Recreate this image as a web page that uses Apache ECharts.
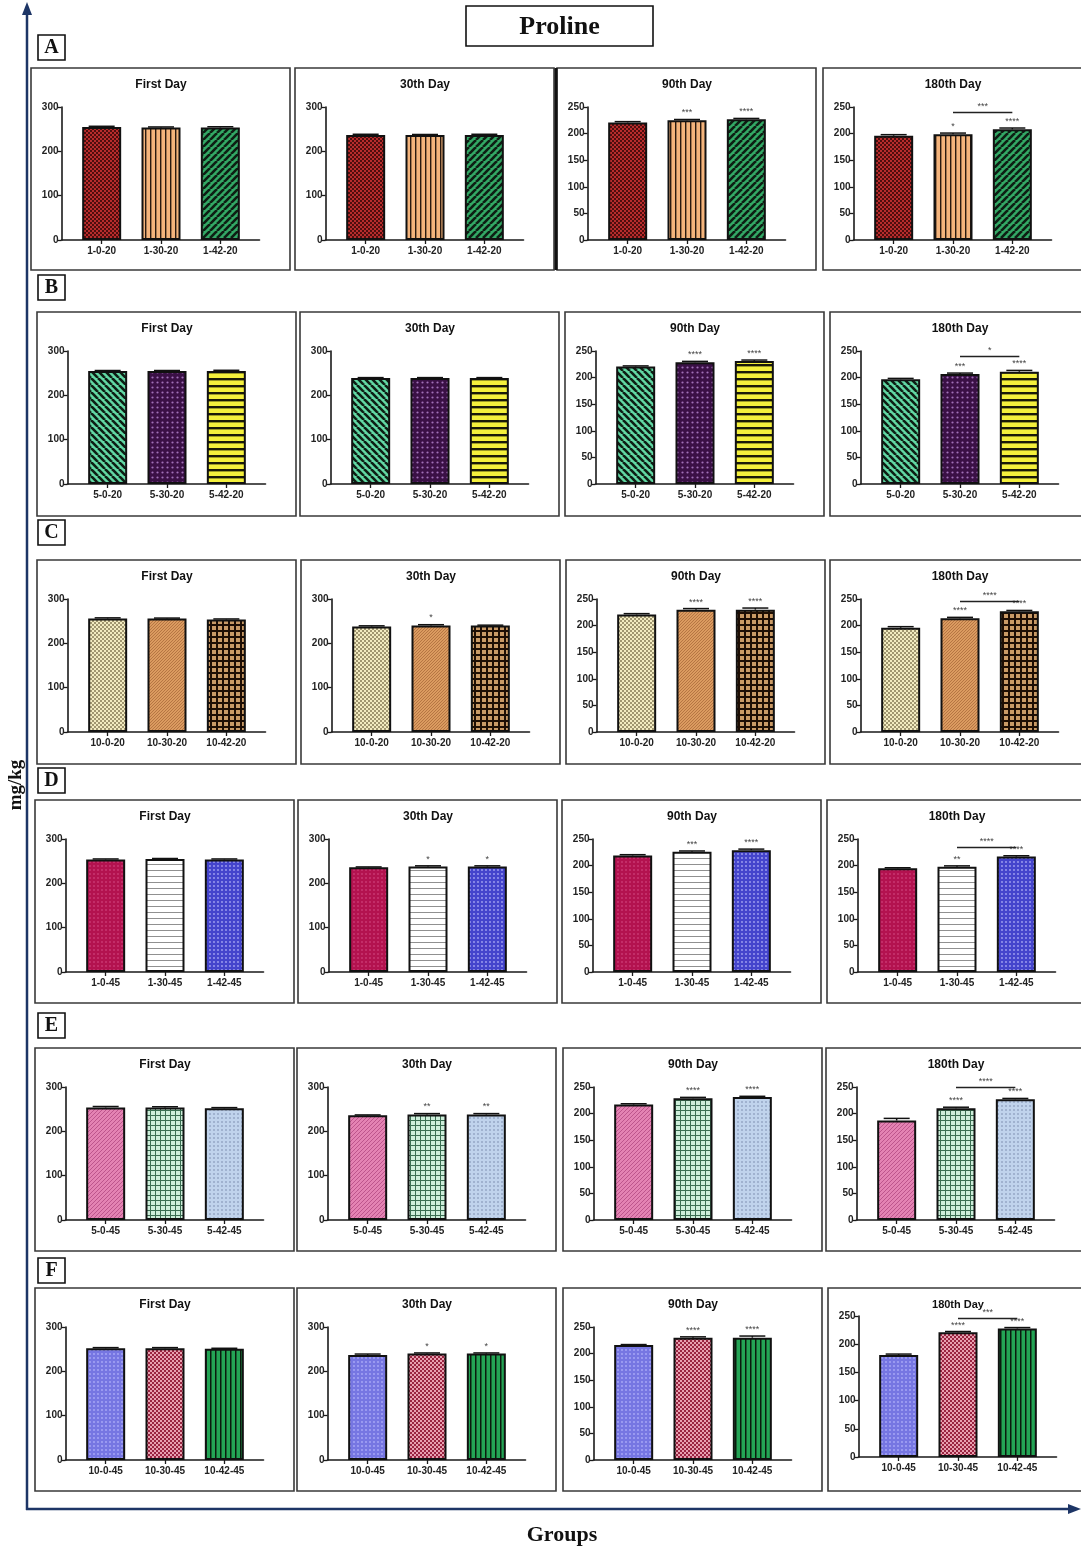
<!DOCTYPE html>
<html>
<head>
<meta charset="utf-8">
<script src="https://cdn.jsdelivr.net/npm/echarts@6/dist/echarts.min.js"></script>
<style>html,body{margin:0;padding:0;background:#fff;}#c{width:1081px;height:1548px;}</style>
</head>
<body>
<div id="c"></div>
<script>
// ---------------- DATA ----------------
const rowLabels = ['A','B','C','D','E','F'];
const dayTitles = ['First Day','30th Day','90th Day','180th Day'];
const axisMax = [300,300,250,250];
const axisStep = [100,100,50,50];

const groupsA = ['1-0-20','1-30-20','1-42-20'];
const groupsB = ['5-0-20','5-30-20','5-42-20'];
const groupsC = ['10-0-20','10-30-20','10-42-20'];
const groupsD = ['1-0-45','1-30-45','1-42-45'];
const groupsE = ['5-0-45','5-30-45','5-42-45'];
const groupsF = ['10-0-45','10-30-45','10-42-45'];

// values per day: [First, 30th, 90th, 180th] x 3 groups
const valuesA = [[255,254,254],[237,237,237],[221,225,227],[196,199,208]];
const valuesB = [[255,255,255],[239,239,239],[221,229,231],[197,207,211]];
const valuesC = [[256,256,254],[238,240,240],[221,230,230],[196,214,227]];
const valuesD = [[254,255,254],[236,238,238],[219,226,229],[195,198,217]];
const valuesE = [[254,254,252],[236,238,238],[217,229,231],[187,210,227]];
const valuesF = [[252,252,251],[237,240,240],[216,230,230],[181,221,228]];

const errorsA = [[1.5,1,1.5],[1.5,1,1.5],[1.5,1.5,1.5],[2,2,2.5]];
const errorsB = [[1,1,1.5],[1,1,1],[1,1.5,2],[1.5,1.5,2.5]];
const errorsC = [[1.5,1,1],[1.5,2,1],[1.5,2,3],[2,1.5,1.5]];
const errorsD = [[1,1,1],[1,1.5,1.5],[1.5,1.5,2],[1,1.5,1.5]];
const errorsE = [[2,1.5,1.5],[1,2,2],[1.5,1.5,1.5],[4,2,1.5]];
const errorsF = [[1.5,1.5,1],[2,1.5,1.5],[1,1.5,3],[1.5,1.5,1.5]];

const starsA = [['','',''],['','',''],['','***','****'],['','*','****']];
const starsB = [['','',''],['','',''],['','****','****'],['','***','****']];
const starsC = [['','',''],['','*',''],['','****','****'],['','****','****']];
const starsD = [['','',''],['','*','*'],['','***','****'],['','**','****']];
const starsE = [['','',''],['','**','**'],['','****','****'],['','****','****']];
const starsF = [['','',''],['','*','*'],['','****','****'],['','****','****']];

// comparison bracket between group 2 and group 3: [level, stars] or null
const compA = [null,null,null,[240,'***']];
const compB = [null,null,null,[241,'*']];
const compC = [null,null,null,[246,'****']];
const compD = [null,null,[252,'*'],[234,'****']];
const compE = [null,null,null,[250,'****']];
const compF = [null,null,null,[246,'***']];

const allGroups = [groupsA,groupsB,groupsC,groupsD,groupsE,groupsF];
const allValues = [valuesA,valuesB,valuesC,valuesD,valuesE,valuesF];
const allErrors = [errorsA,errorsB,errorsC,errorsD,errorsE,errorsF];
const allStars = [starsA,starsB,starsC,starsD,starsE,starsF];
const allComps = [compA,compB,compC,compD,compE,compF];

// ---------------- LAYOUT ----------------
const rowTop = [68,312,560,800,1048,1288];
const rowH = [202,204,204,203,203,203];
const panelX = [
  [31,295,557,823],
  [37,300,565,830],
  [37,301,566,830],
  [35,298,562,827],
  [35,297,563,826],
  [35,297,563,828]
];
const labelBoxY = [35,275,520,768,1013,1258];

// ---------------- PATTERNS ----------------
function pat(w,h,draw){const c=document.createElement('canvas');c.width=w;c.height=h;const g=c.getContext('2d');draw(g,w,h);return {image:c,repeat:'repeat'};}
function checker(base,dark,s){return pat(2*s,2*s,g=>{g.fillStyle=base;g.fillRect(0,0,2*s,2*s);g.fillStyle=dark;g.fillRect(0,0,s,s);g.fillRect(s,s,s,s);});}
function vstripe(base,dark,p,w){return pat(p,p,g=>{g.fillStyle=base;g.fillRect(0,0,p,p);g.fillStyle=dark;g.fillRect(0,0,w,p);});}
function hstripe(base,dark,p,w){return pat(p,p,g=>{g.fillStyle=base;g.fillRect(0,0,p,p);g.fillStyle=dark;g.fillRect(0,0,p,w);});}
function diag(base,dark,p,w,dir){return pat(p,p,g=>{g.fillStyle=base;g.fillRect(0,0,p,p);g.strokeStyle=dark;g.lineWidth=w;
  for(let k=-1;k<=1;k++){g.beginPath();if(dir>0){g.moveTo(k*p,p);g.lineTo(k*p+p,0);}else{g.moveTo(k*p,0);g.lineTo(k*p+p,p);}g.stroke();}});}
function dots(base,dot,p,r){return pat(p,p,g=>{g.fillStyle=base;g.fillRect(0,0,p,p);g.fillStyle=dot;g.beginPath();g.arc(p/2,p/2,r,0,Math.PI*2);g.fill();});}
function gridp(base,line,p,w){return pat(p,p,g=>{g.fillStyle=base;g.fillRect(0,0,p,p);g.fillStyle=line;g.fillRect(0,0,p,w);g.fillRect(0,0,w,p);});}

const rowPatterns = [
  [checker('#B82C2C','#4E0E0E',2), vstripe('#F4B47C','#2A1A10',5,1.4), diag('#33A865','#0E1E14',7,2.6,1)],
  [diag('#62D8A4','#0E1E14',7,2.6,-1), dots('#3A1045','#A070B8',5,1.1), hstripe('#F4F03C','#1A1A08',7,2.4)],
  [checker('#F2EBC0','#A09670',2), diag('#DB9B60','#B07040',3,0.9,1), gridp('#C99A66','#1E0E04',6,2)],
  [dots('#B3124F','#D8508A',4,0.8), hstripe('#FFFFFF','#909090',6,1), dots('#4444CC','#A4A4F2',4,0.9)],
  [diag('#E483B3','#B85088',4,0.9,1), gridp('#CDEEDA','#3A6E52',5,1), dots('#C0D3EC','#7888AA',4,0.8)],
  [dots('#7676E2','#AAAAF6',4,0.9), checker('#9A2440','#E8A0B0',2), vstripe('#24A455','#0A1A0E',5,1.5)]
];

// ---------------- BUILD ----------------
const SANS = '"Liberation Sans", Arial, Helvetica, sans-serif';
const SERIF = '"Liberation Serif", "Times New Roman", serif';
const axisCol = '#1a1a1a';
const grids=[], xAxes=[], yAxes=[], series=[], graphics=[];

for(let r=0;r<6;r++){
  for(let d=0;d<4;d++){
    const bx=panelX[r][d], by=rowTop[r];
    const special = (r===5 && d===3);
    const topOff = special?28:39, botOff = special?169:172;
    const h = botOff-topOff;
    const max = axisMax[d], step = axisStep[d];
    const grp = allGroups[r], vals = allValues[r][d], errs = allErrors[r][d], st = allStars[r][d], cmp = allComps[r][d];

    const pw = d===3 ? 280 : 259;
    graphics.push({type:'rect', shape:{x:bx,y:by,width:pw,height:rowH[r]}, style:{fill:'none',stroke:'#3a3a3a',lineWidth:1.6}, z:0});
    graphics.push({type:'text', x:bx+130, y:by+17, style:{text:dayTitles[d], font:'bold '+(special?11:12)+'px '+SANS, fill:'#111', align:'center', verticalAlign:'middle', textAlign:'center', textVerticalAlign:'middle'}, z:5});

    const gW = grids.length;
    grids.push({left:bx+30.5, top:by+topOff, width:198, height:h});
    xAxes.push({gridIndex:gW, type:'value', min:0, max:1, axisLine:{show:true,lineStyle:{color:axisCol,width:1.6}}, axisTick:{show:false}, axisLabel:{show:false}, splitLine:{show:false}});
    yAxes.push({gridIndex:gW, type:'value', min:0, max:max, interval:step,
      axisLine:{show:true,lineStyle:{color:axisCol,width:1.6}}, axisTick:{show:true,length:4,lineStyle:{color:axisCol,width:1.3}},
      axisLabel:{fontSize:10,fontWeight:'bold',color:'#222',margin:3,fontFamily:SANS}, splitLine:{show:false}});

    const gN = grids.length;
    grids.push({left:bx+41, top:by+topOff, width:178, height:h});
    xAxes.push({gridIndex:gN, type:'category', data:grp, axisLine:{show:false},
      axisTick:{show:true,alignWithLabel:true,length:4,lineStyle:{color:axisCol,width:1.3}},
      axisLabel:{fontSize:10,fontWeight:'bold',color:'#222',margin:6,fontFamily:SANS}, splitLine:{show:false}});
    yAxes.push({gridIndex:gN, type:'value', min:0, max:max, show:false, splitLine:{show:false}});

    const bar = {
      type:'bar', xAxisIndex:gN, yAxisIndex:gN, barWidth:39, clip:false, silent:true,
      itemStyle:{borderColor:'#111',borderWidth:2},
      data: vals.map((v,i)=>({value:v, itemStyle:{color:rowPatterns[r][i]},
        label:{show:!!st[i], formatter:st[i], position:'top', distance:2+errs[i]*0.55, fontSize:9, color:'#444', fontFamily:SANS}})),
      z:3
    };
    if(cmp){
      bar.markLine = {symbol:'none', silent:true, animation:false,
        lineStyle:{color:'#222',type:'solid',width:1.4},
        label:{show:true, position:'middle', formatter:cmp[1], fontSize:9, color:'#444', distance:1, fontFamily:SANS},
        data:[[{coord:[grp[1],cmp[0]]},{coord:[grp[2],cmp[0]]}]]};
    }
    series.push(bar);
    series.push({
      type:'custom', xAxisIndex:gN, yAxisIndex:gN, silent:true, z:4, clip:false,
      data: vals.map((v,i)=>[i,v,errs[i]]),
      renderItem:(params,api)=>{
        const x=api.value(0), v=api.value(1), e=api.value(2);
        const p0=api.coord([x,v]), p1=api.coord([x,v+e]);
        const hw=13;
        return {type:'group', children:[
          {type:'line', shape:{x1:p0[0],y1:p0[1],x2:p1[0],y2:p1[1]}, style:{stroke:'#111',lineWidth:1.5}},
          {type:'line', shape:{x1:p1[0]-hw,y1:p1[1],x2:p1[0]+hw,y2:p1[1]}, style:{stroke:'#111',lineWidth:1.5}}
        ]};
      }
    });
  }
  graphics.push({type:'rect', shape:{x:38,y:labelBoxY[r],width:27,height:25}, style:{fill:'#fff',stroke:'#111',lineWidth:1.6}});
  graphics.push({type:'text', x:51.5, y:labelBoxY[r]+13, style:{text:rowLabels[r], font:'bold 20px '+SERIF, fill:'#111', align:'center', verticalAlign:'middle', textAlign:'center', textVerticalAlign:'middle'}});
}
graphics.push({type:'line', shape:{x1:556,y1:68,x2:556,y2:270}, style:{stroke:'#111',lineWidth:3}});

graphics.push({type:'rect', shape:{x:466,y:6,width:187,height:40}, style:{fill:'#fff',stroke:'#111',lineWidth:1.6}});
graphics.push({type:'text', x:559.5, y:27, style:{text:'Proline', font:'bold 26px '+SERIF, fill:'#111', align:'center', verticalAlign:'middle', textAlign:'center', textVerticalAlign:'middle'}});

const navy='#1D3566';
graphics.push({type:'line', shape:{x1:27,y1:1510,x2:27,y2:12}, style:{stroke:navy,lineWidth:2.5}});
graphics.push({type:'polygon', shape:{points:[[27,2],[22,15],[32,15]]}, style:{fill:navy}});
graphics.push({type:'line', shape:{x1:26,y1:1509,x2:1070,y2:1509}, style:{stroke:navy,lineWidth:2.5}});
graphics.push({type:'polygon', shape:{points:[[1081,1509],[1068,1504],[1068,1514]]}, style:{fill:navy}});
graphics.push({type:'text', x:16, y:785, rotation:Math.PI/2, style:{text:'mg/kg', font:'bold 19px '+SERIF, fill:'#111', align:'center', verticalAlign:'middle', textAlign:'center', textVerticalAlign:'middle'}});
graphics.push({type:'text', x:562, y:1535, style:{text:'Groups', font:'bold 22px '+SERIF, fill:'#111', align:'center', verticalAlign:'middle', textAlign:'center', textVerticalAlign:'middle'}});

const chart = echarts.init(document.getElementById('c'), null, {renderer:'canvas', width:1081, height:1548});
chart.setOption({
  animation:false,
  backgroundColor:'#fff',
  grid:grids, xAxis:xAxes, yAxis:yAxes, series:series,
  graphic:{elements:graphics}
});
</script>
</body>
</html>
